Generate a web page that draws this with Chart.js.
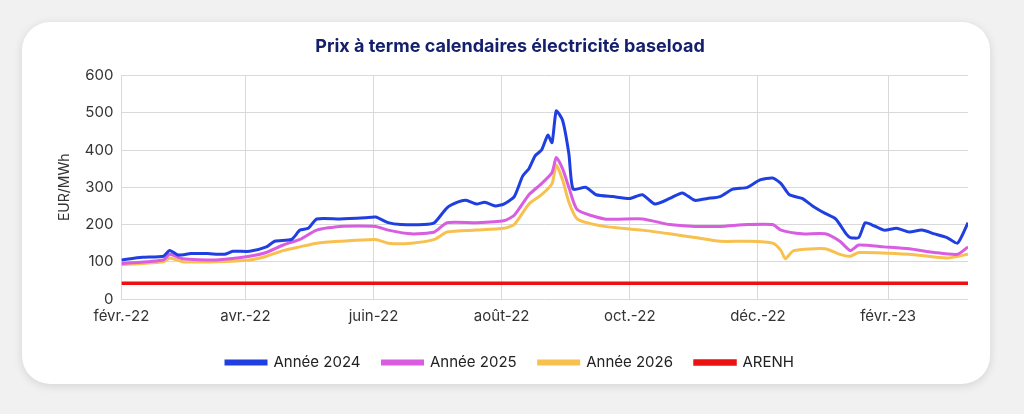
<!DOCTYPE html>
<html><head><meta charset="utf-8">
<script src="https://cdn.jsdelivr.net/npm/chart.js@4"></script>
<style>
html,body{margin:0;padding:0;background:#f1f1f1;width:1024px;height:414px;overflow:hidden}
#card{position:absolute;left:22px;top:22px;width:968px;height:362px;background:#fff;border-radius:28px;box-shadow:0 2px 10px rgba(0,0,0,0.12)}
#wrap{position:absolute;left:30px;top:10px;width:920px;height:350px}
</style></head><body>
<div id="card"><div id="wrap"><canvas id="c"></canvas></div></div>
<script>
const tickDays=[0,59,120,181,242,303,365];
const tickLabels=["févr.-22","avr.-22","juin-22","août-22","oct.-22","déc.-22","févr.-23"];
const days2024=[0,10,20,23,27,33,41,49,53,61,69,73,81,85,89,93,104,116,121,127,133,144,149,155,160,164,169,173,178,182,187,191,194,197,200,203,205,207,210,213,215,221,226,234,242,248,254,261,267,273,279,285,291,298,304,310,314,318,324,329,335,340,345,347,351,354,357,363,369,375,381,387,393,398,403];
const vals2024=[105,112,115,130,118,122,122,120,128,128,140,155,160,185,190,215,215,218,220,205,200,200,205,245,260,265,255,260,250,255,275,330,350,385,400,440,420,505,480,390,295,300,280,275,270,280,255,270,285,265,270,275,295,300,320,325,310,280,270,250,230,215,175,165,165,205,200,185,190,180,185,175,165,150,205];
const days2025=[0,20,23,29,45,61,69,77,85,93,104,121,127,138,149,155,169,182,187,194,200,205,207,210,213,217,230,248,261,273,285,298,310,314,324,335,342,347,351,363,375,387,398,403];
const vals2025=[95,105,120,108,105,115,125,145,160,185,195,195,185,175,180,205,205,210,225,280,310,340,380,350,300,240,215,215,200,195,195,200,200,185,175,175,155,130,145,140,135,125,120,140];
const days2026=[0,20,23,29,45,61,69,77,85,93,104,121,127,138,149,155,169,182,187,194,200,205,207,210,213,217,230,248,261,273,285,298,310,314,316,320,335,342,347,351,375,393,403];
const vals2026=[92,100,110,100,100,105,115,130,140,150,155,160,150,150,160,180,185,190,200,255,280,310,360,320,260,215,195,185,175,165,155,155,150,130,108,130,135,120,115,125,120,110,120];
const arenhDays=[0,403];
const arenhVals=[42,42];
const pts=(d,v)=>d.map((x,i)=>({x,y:v[i]}));
const ds=(label,d,v,color,w)=>({label,data:pts(d,v),borderColor:color,backgroundColor:color,borderWidth:w,pointRadius:0,tension:0.2});
Chart.defaults.font.family="Inter, 'Open Sans', sans-serif";
new Chart(document.getElementById('c'),{type:'line',
data:{datasets:[ds('Année 2024',days2024,vals2024,'#1f3fe0',3),ds('Année 2025',days2025,vals2025,'#d85de0',3),ds('Année 2026',days2026,vals2026,'#f7c04f',3),ds('ARENH',arenhDays,arenhVals,'#ee1111',3.5)]},
options:{responsive:true,maintainAspectRatio:false,animation:false,
layout:{padding:{right:4,bottom:2}},
plugins:{title:{display:true,text:'Prix à terme calendaires électricité baseload',color:'#14206b',font:{size:18,weight:'bold'},padding:{top:4,bottom:18}},
legend:{position:'bottom',labels:{boxWidth:40,boxHeight:3,color:'#222',font:{size:15},padding:22}}},
scales:{x:{type:'linear',min:0,max:403,afterBuildTicks:a=>{a.ticks=tickDays.map(v=>({value:v}))},
ticks:{callback:(v)=>tickLabels[tickDays.indexOf(v)],color:'#333',font:{size:15},maxRotation:0,autoSkip:false,padding:8},
grid:{color:'#d9d9d9',drawTicks:false},border:{display:false}},
y:{min:0,max:600,ticks:{stepSize:100,color:'#333',font:{size:15},padding:8},grid:{color:'#d9d9d9',drawTicks:false},border:{display:false},
title:{display:true,text:'EUR/MWh',color:'#333',font:{size:14}}}}}});
</script></body></html>
